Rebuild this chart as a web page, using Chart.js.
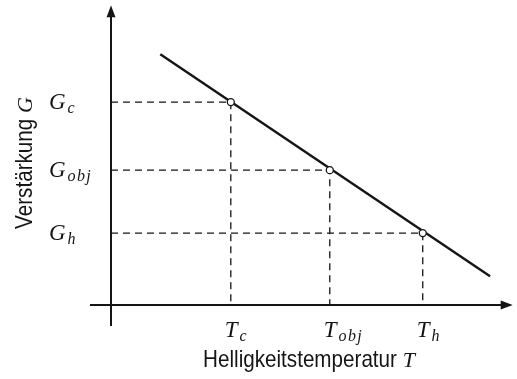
<!DOCTYPE html>
<html>
<head>
<meta charset="utf-8">
<script src="https://cdn.jsdelivr.net/npm/chart.js@4.4.0/dist/chart.umd.min.js"></script>
<style>
  html, body { margin: 0; padding: 0; background: #fff; }
</style>
</head>
<body>
<canvas id="myChart" width="517" height="379"></canvas>
<script>
// straight G(T) line, endpoints
const lineT = [12.3, 94.6];
const lineG = [83.7, 9.6];
// marked operating points c / obj / h
const markT = [29.9, 54.6, 77.8];
const markG = [67.7, 45, 24];
const markSubs = ['c', 'obj', 'h'];

const xTitle = 'Helligkeitstemperatur ';
const yTitle = 'Verstärkung ';

const ink = '#151515';
const mathFont = '"Liberation Serif", "DejaVu Serif", serif';
const sansFont = '"Liberation Sans", "Roboto", sans-serif';
const squeeze = 0.86; // condensed look for the axis titles

// dashed guides from each point to both axes
const guideSets = markT.map((t, i) => ({
  data: [{ x: 0, y: markG[i] }, { x: t, y: markG[i] }, { x: t, y: 0 }],
  showLine: true,
  borderColor: ink,
  borderWidth: 1.3,
  borderDash: [7, 5],
  pointRadius: 0,
  order: 3
}));

const chartData = {
  datasets: [
    {
      data: lineT.map((t, i) => ({ x: t, y: lineG[i] })),
      showLine: true,
      borderColor: ink,
      borderWidth: 2.4,
      pointRadius: 0,
      order: 2
    },
    {
      data: markT.map((t, i) => ({ x: t, y: markG[i] })),
      showLine: false,
      pointRadius: 3.5,
      pointBackgroundColor: '#fff',
      pointBorderColor: ink,
      pointBorderWidth: 1.3,
      order: 1
    },
    ...guideSets
  ]
};

function drawMath(ctx, base, sub, x, y, size) {
  ctx.font = `italic ${size}px ${mathFont}`;
  ctx.fillText(base, x, y);
  const w = ctx.measureText(base).width;
  if (sub) {
    ctx.font = `italic ${Math.round(size * 0.7)}px ${mathFont}`;
    ctx.fillText(sub.split('').join(String.fromCharCode(8202)), x + w + 2, y + 4);
  }
}

// sans title followed by an italic math symbol, centred at cx
function drawTitle(ctx, text, sym, cx, y) {
  ctx.font = `24px ${sansFont}`;
  const w1 = ctx.measureText(text).width * squeeze;
  ctx.font = `italic 22px ${mathFont}`;
  const w2 = ctx.measureText(sym).width;
  const sx = cx - (w1 + w2) / 2;
  ctx.save();
  ctx.translate(sx, y);
  ctx.scale(squeeze, 1);
  ctx.font = `24px ${sansFont}`;
  ctx.fillText(text, 0, 0);
  ctx.restore();
  ctx.font = `italic 22px ${mathFont}`;
  ctx.fillText(sym, sx + w1, y);
}

const axesPlugin = {
  id: 'axes',
  beforeDatasetsDraw(chart) {
    const { ctx, scales: { x, y } } = chart;
    const x0 = x.getPixelForValue(0);
    const y0 = y.getPixelForValue(0);
    const xEnd = x.right + 1;
    const yEnd = y.top;
    ctx.save();
    ctx.strokeStyle = ink;
    ctx.fillStyle = ink;
    ctx.lineWidth = 2;
    ctx.beginPath();
    ctx.moveTo(x0 - 21, y0);
    ctx.lineTo(xEnd - 8, y0);
    ctx.moveTo(x0, y0 + 21);
    ctx.lineTo(x0, yEnd + 8);
    ctx.stroke();
    ctx.beginPath();
    ctx.moveTo(xEnd, y0);
    ctx.lineTo(xEnd - 12, y0 - 4.5);
    ctx.lineTo(xEnd - 12, y0 + 4.5);
    ctx.closePath();
    ctx.fill();
    ctx.beginPath();
    ctx.moveTo(x0, yEnd);
    ctx.lineTo(x0 - 4.5, yEnd + 12);
    ctx.lineTo(x0 + 4.5, yEnd + 12);
    ctx.closePath();
    ctx.fill();
    ctx.restore();
  },
  afterDraw(chart) {
    const { ctx, scales: { x, y } } = chart;
    const y0 = y.getPixelForValue(0);
    ctx.save();
    ctx.fillStyle = ink;
    ctx.textBaseline = 'alphabetic';
    ctx.textAlign = 'left';

    // G labels on the left, T labels below
    markG.forEach((g, i) => {
      drawMath(ctx, 'G', markSubs[i], 49, y.getPixelForValue(g) + 7, 23);
    });
    markT.forEach((t, i) => {
      drawMath(ctx, 'T', markSubs[i], x.getPixelForValue(t) - 6, y0 + 32, 23);
    });

    drawTitle(ctx, xTitle, 'T', 309, 367);

    ctx.translate(32, 163);
    ctx.rotate(-Math.PI / 2);
    drawTitle(ctx, yTitle, 'G', 0, 0);
    ctx.restore();
  }
};

const ctx = document.getElementById('myChart').getContext('2d');

const myChart = new Chart(ctx, {
  type: 'scatter',
  data: chartData,
  options: {
    responsive: false,
    animation: false,
    devicePixelRatio: 1,
    layout: { padding: { left: 111, right: 1, top: 5, bottom: 74 } },
    plugins: { legend: { display: false }, tooltip: { enabled: false } },
    scales: {
      x: { type: 'linear', min: 0, max: 100, display: false },
      y: { type: 'linear', min: 0, max: 100, display: false }
    }
  },
  plugins: [axesPlugin]
});
</script>
</body>
</html>
